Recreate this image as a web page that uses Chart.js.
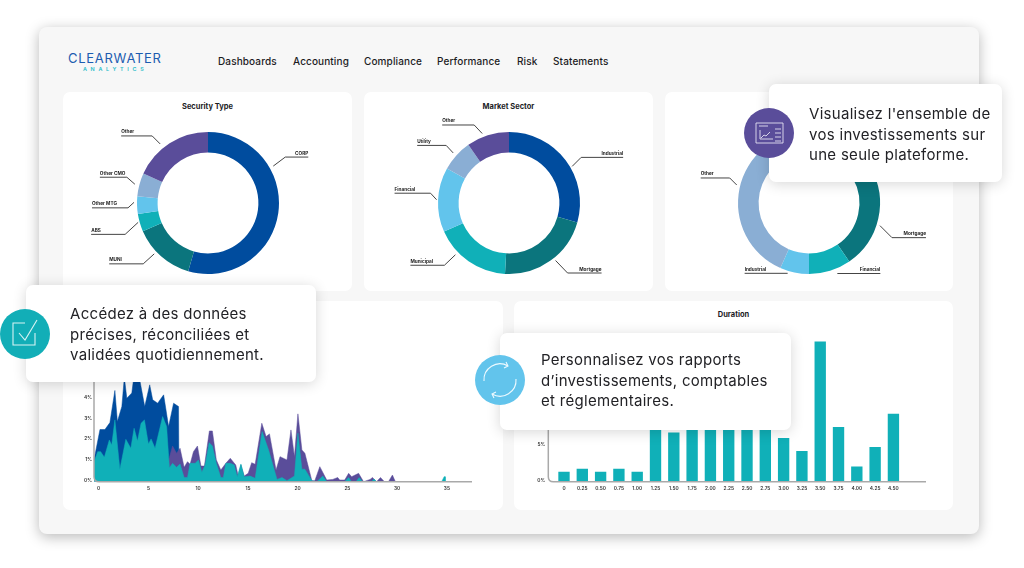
<!DOCTYPE html>
<html lang="fr">
<head>
<meta charset="utf-8">
<title>Clearwater Analytics</title>
<script src="https://cdn.jsdelivr.net/npm/chart.js@4"></script>
<style>
  html, body { margin: 0; padding: 0; width: 1024px; height: 568px; overflow: hidden; background: #fff; font-family: Inter, sans-serif; color: #1c1c1f; }
  .abs { position: absolute; }
  #panel { left: 39px; top: 27px; width: 940px; height: 507px; background: #f7f7f7; border-radius: 8px; box-shadow: 0 3px 14px rgba(0,0,0,.28); }
  .card { background: #fff; border-radius: 7px; }
  .title { font-size: 7.5px; font-weight: 700; text-align: center; white-space: nowrap; }
  .nav { top: 55px; font-size: 10px; font-weight: 500; letter-spacing: .12px; white-space: nowrap; }
  .logo { left: 68px; top: 50px; font-size: 13px; font-weight: 400; letter-spacing: .72px; color: #1c5cb0; white-space: nowrap; }
  .logo2 { left: 83px; top: 66px; font-size: 5.4px; font-weight: 600; letter-spacing: 3.7px; color: #2bbdc9; white-space: nowrap; }
  .popup { background: #fff; border-radius: 7px; box-shadow: 0 2px 14px rgba(0,0,0,.16); z-index: 5; }
  .popup-text { z-index: 6; font-size: 15px; letter-spacing: .3px; line-height: 20.5px; white-space: nowrap; color: #222226; }
  .icon { z-index: 7; }
  canvas { position: absolute; }
</style>
</head>
<body>
<div id="panel" class="abs"></div>

<div class="abs logo">CLEARWATER</div>
<div class="abs logo2">ANALYTICS</div>
<div class="abs nav" style="left:218px">Dashboards</div>
<div class="abs nav" style="left:293px">Accounting</div>
<div class="abs nav" style="left:364px">Compliance</div>
<div class="abs nav" style="left:437px">Performance</div>
<div class="abs nav" style="left:517px">Risk</div>
<div class="abs nav" style="left:553px">Statements</div>

<div class="abs card" style="left:63px;top:92px;width:289px;height:199px"></div>
<div class="abs card" style="left:364px;top:92px;width:289px;height:199px"></div>
<div class="abs card" style="left:665px;top:92px;width:288px;height:199px"></div>
<div class="abs card" style="left:63px;top:301px;width:440px;height:209px"></div>
<div class="abs card" style="left:514px;top:301px;width:439px;height:209px"></div>

<div class="abs title" style="left:63px;top:102px;width:289px">Security Type</div>
<div class="abs title" style="left:364px;top:102px;width:289px">Market Sector</div>
<div class="abs title" style="left:514px;top:309.5px;width:439px">Duration</div>

<canvas id="securityChart" style="left:58px;top:92px" width="300" height="222"></canvas>
<canvas id="sectorChart" style="left:358.5px;top:92px" width="300" height="222"></canvas>
<canvas id="thirdChart" style="left:659px;top:92px" width="300" height="222"></canvas>
<canvas id="maturityChart" style="left:63px;top:301px" width="440" height="209"></canvas>
<canvas id="durationChart" style="left:514px;top:301px" width="439" height="209"></canvas>

<div class="abs popup" style="left:26px;top:285px;width:290px;height:97px"></div>
<div class="abs popup-text" style="left:70px;top:304px">Accédez à des données<br>précises, réconciliées et<br>validées quotidiennement.</div>
<svg class="abs icon" style="left:0;top:309px" width="50" height="50" viewBox="0 0 50 50">
  <circle cx="25" cy="25" r="25" fill="#12aeb7"/>
  <path d="M25 14H13V36H35V24M19 24l6 7 12-20" fill="none" stroke="#d8f3f4" stroke-width="1.1"/>
</svg>

<div class="abs popup" style="left:500px;top:333px;width:291px;height:97px"></div>
<div class="abs popup-text" style="left:541px;top:350px">Personnalisez vos rapports<br>d’investissements, comptables<br>et réglementaires.</div>
<svg class="abs icon" style="left:475px;top:355px" width="50" height="50" viewBox="0 0 50 50">
  <circle cx="25" cy="25" r="25" fill="#62c4ec"/>
  <path d="M9 26A16 16 0 0 1 33 11M31 7l2 4-4 2M41 24A16 16 0 0 1 17 39M19 43l-2-4 4-2" fill="none" stroke="#eefaff" stroke-width="1.1"/>
</svg>

<div class="abs popup" style="left:769px;top:84px;width:233px;height:98px"></div>
<div class="abs popup-text" style="left:809px;top:104px">Visualisez l'ensemble de<br>vos investissements sur<br>une seule plateforme.</div>
<svg class="abs icon" style="left:744px;top:108px" width="50" height="50" viewBox="0 0 50 50">
  <circle cx="25" cy="25" r="25" fill="#5a4d9a"/>
  <path d="M12 15H39V35H12ZM15 18H24M16 22V31H29M17 30l3-3 2 1 4-4M31 21H37M31 25H37M31 29H37M31 33H37" fill="none" stroke="#e4e1f2" stroke-width="0.9"/>
</svg>

<script>
const securityLabels = ["CORP", "MUNI", "ABS", "Other MTG", "Other CMO", "Other"];
const securityValues = [54.5, 14, 4, 4, 5.3, 18.2];

const sectorLabels = ["Industrial", "Mortgage", "Municipal", "Financial", "Utility", "Other"];
const sectorValues = [29.4, 21.5, 17.5, 14.7, 7.2, 9.7];

// first slice sits behind the popup, so it has no readable name
const thirdLabels = ["", "Mortgage", "Financial", "Industrial", "Other"];
const thirdValues = [16.7, 23.7, 9.6, 6.6, 43.4];

// maturity area chart, one x/y list per series
const blueX = [0, 0.6, 1.1, 1.6, 2.1, 2.35, 2.8, 3.05, 3.3, 3.8, 4, 4.55, 5.1, 5.6, 5.9, 6.4, 7, 7.5, 8, 8.5, 8.55];
const blueY = [1.04, 2.5, 2.5, 2.83, 4.37, 2.88, 3.6, 5, 4, 4.25, 5, 5, 3.6, 4.64, 3.92, 3.76, 4.16, 2.64, 3.76, 3.6, 0];

const purpleX = [7, 7.3, 7.58, 7.9, 8.3, 8.65, 9.06, 9.4, 9.66, 10, 10.4, 10.75, 11.1, 11.6, 11.9, 12.3, 12.75, 13.25, 13.7, 14.25, 14.5, 14.77, 15.1, 15.5, 15.85, 16.2, 16.87, 17.3, 17.64, 18.3, 18.7, 19.4, 19.8, 20.15, 20.5, 20.9, 21.2, 21.9, 22.2, 22.7, 23.4, 24, 24.5, 24.7, 25.2, 25.6, 25.9, 26.6, 27.1, 27.75, 28, 28.4, 28.8, 29.2, 29.6, 30, 30.3];
const purpleY = [0, 0.9, 1.17, 1.71, 1.36, 1.6, 0.69, 0.96, 0.83, 1.44, 1.71, 0.75, 0.75, 2.43, 2.43, 1.04, 0.56, 0.88, 1.12, 0.8, 0.27, 0.8, 0.27, 0.4, 0.91, 0.83, 2.8, 2.16, 2.29, 0.56, 1.2, 1.04, 2.48, 1.2, 3.25, 1.52, 1.36, 0.05, 0.05, 0.72, 0.08, 0.11, 0.2, 0.08, 0.08, 0.4, 0.24, 0.4, 0, 0.11, 0.2, 0, 0.2, 0, 0, 0.32, 0];

const tealX = [0, 0.37, 0.67, 1.04, 1.54, 1.78, 2.1, 2.6, 3.2, 3.7, 4.03, 4.37, 4.73, 5.07, 5.47, 5.74, 6.14, 6.9, 7.3, 7.58, 7.9, 8.3, 8.65, 9.06, 9.4, 9.66, 10.17, 10.5, 10.84, 11.17, 11.58, 11.9, 12.3, 12.75, 13, 13.25, 13.7, 14.1, 14.4, 14.77, 15.1, 15.7, 16.2, 16.9, 17.55, 18.4, 18.9, 19.4, 20.15, 20.5, 20.9, 21.2, 21.9, 22.4, 23, 23.4, 25.2, 25.6, 25.9, 26.35, 26.65, 27, 27.9, 28.15, 28.4, 34.95, 35.2, 35.3, 35.32];
const tealY = [0.96, 1.44, 1.44, 1.17, 2, 1.76, 2.96, 0.6, 2.03, 1.6, 2.56, 1.95, 2.8, 2.96, 1.81, 2.05, 1.6, 3.12, 2.64, 0.67, 0.88, 0.69, 0.85, 0.2, 0.2, 0.88, 0.88, 1.04, 0.45, 0.8, 1.87, 1.71, 0.88, 0.2, 0.2, 0.88, 0.88, 0.8, 0.24, 0.85, 0.24, 0.27, 0.16, 2.4, 1.52, 0.11, 0.2, 0.05, 0.27, 2.32, 0.6, 0.6, 0.05, 0, 0.27, 0, 0, 0.2, 0, 0, 0.2, 0, 0, 0.13, 0, 0, 0.24, 0.24, 0];

const maturityTicks = [0, 5, 10, 15, 20, 25, 30, 35];

// duration bars, the 1.25 and 1.75-2.75 tops are hidden by the popup
const durationX = [0, 0.25, 0.5, 0.75, 1, 1.25, 1.5, 1.75, 2, 2.25, 2.5, 2.75, 3, 3.25, 3.5, 3.75, 4, 4.25, 4.5];
const durationLabels = ["0", "0.25", "0.50", "0.75", "1.00", "1.25", "1.50", "1.75", "2.00", "2.25", "2.50", "2.75", "3.00", "3.25", "3.50", "3.75", "4.00", "4.25", "4.50"];
const durationValues = [1.36, 1.78, 1.36, 1.78, 1.36, 7.7, 6.86, 7.6, 7.6, 7.6, 7.6, 7.6, 6.07, 4.24, 19.6, 7.6, 2.1, 4.8, 9.48];

const BLUE = "#004c9e", DARK_TEAL = "#0b757d", TEAL = "#10b0b8", LIGHT_BLUE = "#62c4ec", PERIWINKLE = "#8aaed4", PURPLE = "#5a4d9a";
const AXIS = "#a9a9a9", TICK_COLOR = "#333";

// callouts: where the line leaves the ring (deg clockwise from top), then elbow and underline
const securityCallouts = [
  { angle: 60.5, gap: 4, dx: 12, dy: -9, run: 23 },
  { angle: 226.6, gap: 3, dx: -11, dy: 10, run: -34 },
  { angle: 254.5, gap: 1.5, dx: -13, dy: 12, run: -34 },
  { angle: 270.5, gap: 3, dx: -6, dy: 5.5, run: -36 },
  { angle: 284.4, gap: 4.5, dx: -8, dy: -7, run: -27 },
  { angle: 321, gap: 5, dx: -8, dy: -8, run: -31 }
];
const sectorCallouts = [
  { angle: 59.9, gap: 2, dx: 9, dy: -9, run: 42 },
  { angle: 141, gap: 3, dx: 12, dy: 12.5, run: 34 },
  { angle: 226, gap: 3.5, dx: -11, dy: 10.5, run: -34 },
  { angle: 272.6, gap: 1.5, dx: -6, dy: -6.5, run: -36 },
  { angle: 311.9, gap: 4, dx: -7, dy: -7.5, run: -29 },
  { angle: 338.9, gap: 3.5, dx: -8, dy: -8.5, run: -32 }
];
const thirdCallouts = [
  null,
  { angle: 107.7, gap: 3.5, dx: 12, dy: 12, run: 34 },
  { angle: 158.1, gap: 5, dx: 0, dy: 0, run: 43 },
  { angle: 196.9, gap: 2.5, dx: 0, dy: 0, run: -43 },
  { angle: 284, gap: 3.5, dx: -7, dy: -7, run: -29 }
];

function calloutPlugin(labels, callouts) {
  return {
    id: "callouts",
    afterDatasetsDraw(chart) {
      const ctx = chart.ctx;
      const arcs = chart.getDatasetMeta(0).data;
      ctx.save();
      ctx.strokeStyle = "#444";
      ctx.lineWidth = 1;
      ctx.fillStyle = "#222";
      ctx.font = "700 4.7px Inter, sans-serif";
      callouts.forEach((c, i) => {
        if (!c) return;
        const arc = arcs[i];
        const a = (c.angle - 90) * Math.PI / 180;
        const r = arc.outerRadius + c.gap;
        const sx = arc.x + r * Math.cos(a);
        const sy = arc.y + r * Math.sin(a);
        const ex = sx + c.dx;
        const ey = sy + c.dy;
        const endX = ex + c.run;
        ctx.beginPath();
        ctx.moveTo(sx, sy);
        ctx.lineTo(ex, ey);
        ctx.lineTo(endX, ey);
        ctx.stroke();
        ctx.textAlign = c.run > 0 ? "right" : "left";
        ctx.fillText(labels[i], endX, ey - 2.5);
      });
      ctx.restore();
    }
  };
}

function drawRing(id, labels, values, callouts) {
  new Chart(document.getElementById(id), {
    type: "doughnut",
    data: {
      labels: labels,
      datasets: [{
        data: values,
        backgroundColor: values.length === 5
          ? [BLUE, DARK_TEAL, TEAL, LIGHT_BLUE, PERIWINKLE]
          : [BLUE, DARK_TEAL, TEAL, LIGHT_BLUE, PERIWINKLE, PURPLE],
        borderWidth: 0
      }]
    },
    options: {
      responsive: false,
      animation: false,
      radius: 71,
      cutout: "71%",
      plugins: { legend: { display: false }, tooltip: { enabled: false } }
    },
    plugins: [calloutPlugin(labels, callouts)]
  });
}

drawRing("securityChart", securityLabels, securityValues, securityCallouts);
drawRing("sectorChart", sectorLabels, sectorValues, sectorCallouts);
drawRing("thirdChart", thirdLabels, thirdValues, thirdCallouts);

// L-shaped axis with the rounded corner of the reference
const roundedAxis = {
  id: "roundedAxis",
  afterDatasetsDraw(chart) {
    const { left, right, top, bottom } = chart.chartArea;
    const ctx = chart.ctx;
    ctx.save();
    ctx.strokeStyle = AXIS;
    ctx.lineWidth = 1.5;
    ctx.beginPath();
    ctx.moveTo(left, top);
    ctx.lineTo(left, bottom - 5);
    ctx.quadraticCurveTo(left, bottom, left + 5, bottom);
    ctx.lineTo(right, bottom);
    ctx.stroke();
    ctx.restore();
  }
};

function xyPoints(xs, ys) {
  return xs.map((x, i) => ({ x: x, y: ys[i] }));
}

function areaSet(xs, ys, color) {
  return { data: xyPoints(xs, ys), backgroundColor: color, borderColor: color, borderWidth: 0.5, pointRadius: 0, tension: 0, fill: "origin" };
}

const tickFont = { family: "Inter, sans-serif", size: 4.8, weight: "600" };

new Chart(document.getElementById("maturityChart"), {
  type: "line",
  data: {
    datasets: [
      areaSet(tealX, tealY, TEAL),
      areaSet(purpleX, purpleY, PURPLE),
      areaSet(blueX, blueY, BLUE)
    ]
  },
  options: {
    responsive: false,
    animation: false,
    layout: { padding: { top: 45, right: 31 } },
    plugins: { legend: { display: false }, tooltip: { enabled: false } },
    scales: {
      x: {
        type: "linear",
        min: 0,
        max: 38,
        afterFit(scale) { scale.height = 28.3; },
        afterBuildTicks(scale) { scale.ticks = maturityTicks.map(v => ({ value: v })); },
        grid: { display: false, drawTicks: false },
        border: { display: false },
        ticks: { font: tickFont, color: TICK_COLOR, padding: 4, labelOffset: 4.7, maxRotation: 0, autoSkip: false }
      },
      y: {
        min: 0,
        max: 6.5,
        afterFit(scale) { scale.width = 31; },
        grid: { display: false, drawTicks: false },
        border: { display: false },
        ticks: { font: tickFont, color: TICK_COLOR, padding: 2, stepSize: 1, labelOffset: -1, callback: v => v + "%" }
      }
    }
  },
  plugins: [roundedAxis]
});

new Chart(document.getElementById("durationChart"), {
  type: "bar",
  data: {
    datasets: [{ data: xyPoints(durationX, durationValues), backgroundColor: TEAL, barThickness: 10.7 }]
  },
  options: {
    responsive: false,
    animation: false,
    layout: { padding: { top: 37.9, right: 27 } },
    plugins: { legend: { display: false }, tooltip: { enabled: false } },
    scales: {
      x: {
        type: "linear",
        offset: false,
        min: -0.2145,
        max: 4.945,
        afterFit(scale) { scale.height = 28.3; },
        afterBuildTicks(scale) { scale.ticks = durationX.map(v => ({ value: v })); },
        grid: { display: false, offset: false, drawTicks: false },
        border: { display: false },
        ticks: { font: tickFont, color: TICK_COLOR, padding: 4, maxRotation: 0, autoSkip: false, callback: (v, i) => durationLabels[i] }
      },
      y: {
        min: 0,
        max: 20,
        afterFit(scale) { scale.width = 34.3; },
        grid: { display: false, drawTicks: false },
        border: { display: false },
        ticks: { font: tickFont, color: TICK_COLOR, padding: 3, stepSize: 5, labelOffset: -1, callback: v => v + "%" }
      }
    }
  },
  plugins: [roundedAxis]
});
</script>
</body>
</html>
